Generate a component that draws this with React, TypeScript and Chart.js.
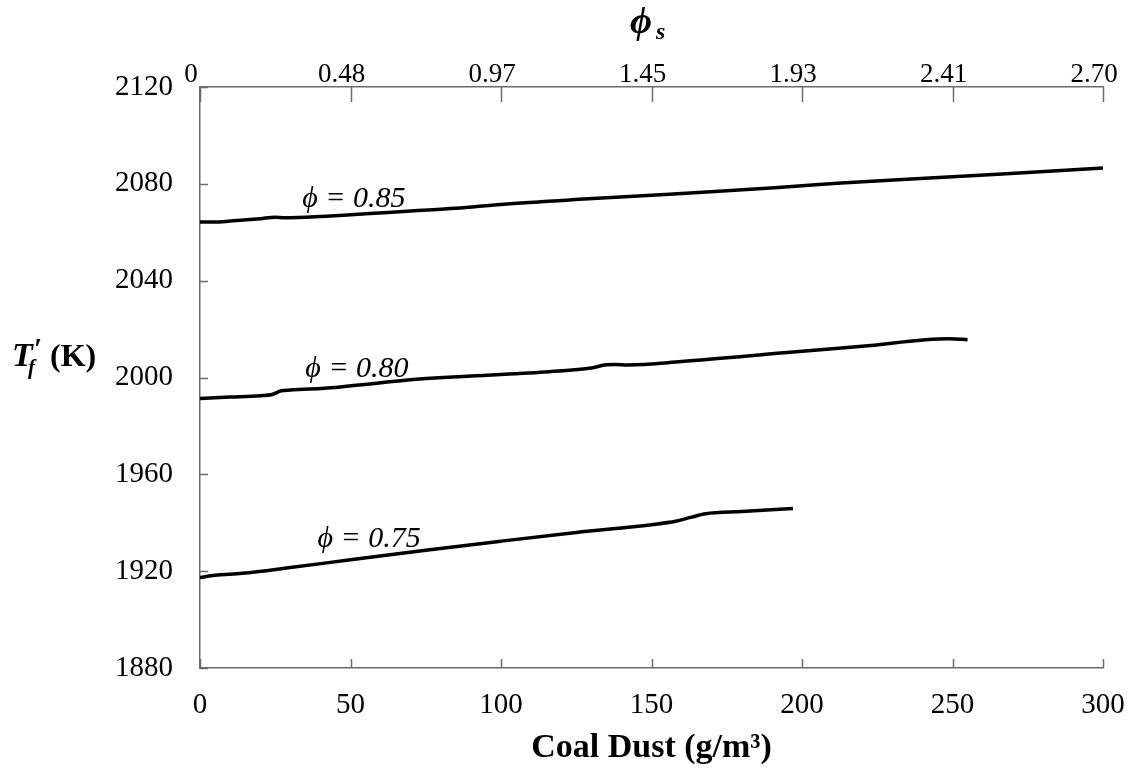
import { useEffect, useRef } from 'react';
import { Chart, registerables } from 'chart.js';

Chart.register(...registerables);

// ---- data ----
const dust085 = [0, 5, 10, 20, 25, 28, 40, 55, 70, 85, 100, 126, 150, 175, 200, 213, 250, 275, 300];
const temp085 = [2064.2, 2064.2, 2064.6, 2065.6, 2066.2, 2066.0, 2066.5, 2067.6, 2068.8, 2069.9, 2071.5, 2073.6, 2075.3, 2077.1, 2079.2, 2080.3, 2082.9, 2084.7, 2086.5];

const dust080 = [0, 10, 20, 24, 27, 30, 45, 57, 69, 90, 116, 130, 135, 138, 142, 160, 194, 220, 249, 255];
const temp080 = [1991.3, 1991.9, 1992.5, 1993.0, 1994.5, 1994.8, 1995.9, 1997.4, 1999.0, 2000.6, 2002.4, 2003.9, 2005.3, 2005.4, 2005.2, 2006.6, 2010.2, 2012.9, 2016.0, 2015.6];

const dust075 = [0, 5, 14, 30, 50, 75, 100, 125, 150, 158, 163, 168, 180, 197];
const temp075 = [1917.4, 1918.3, 1919.1, 1921.5, 1924.7, 1928.6, 1932.4, 1936.0, 1939.2, 1940.6, 1942.2, 1943.7, 1944.6, 1945.9];

const phiSLabels = ['0', '0.48', '0.97', '1.45', '1.93', '2.41', '2.70'];

const curveNames = ['ϕ = 0.85', 'ϕ = 0.80', 'ϕ = 0.75'];
const nameDust = [34, 35, 39];
const nameTemp = [2070.3, 2000.4, 1930.1];

const xTitle = 'Coal Dust (g/m³)';

const SERIF = '"Liberation Serif", "Times New Roman", Times, serif';
const AXIS = '#6b6b6b';

const toPts = (xs: number[], ys: number[]) => xs.map((x, i) => ({ x, y: ys[i] }));

const decor = {
  id: 'decor',
  afterDraw(chart: any) {
    const ctx = chart.ctx as CanvasRenderingContext2D;
    const { left, right, top, bottom } = chart.chartArea;
    const xs = chart.scales.x;
    const xt = chart.scales.xTop;
    const ys = chart.scales.y;
    ctx.save();
    ctx.strokeStyle = AXIS;
    ctx.lineWidth = 1.5;
    ctx.beginPath();
    xs.ticks.forEach((t: any) => {
      const px = Math.round(xs.getPixelForValue(t.value)) + 0.5;
      ctx.moveTo(px, bottom);
      ctx.lineTo(px, bottom - 9);
    });
    xt.ticks.forEach((t: any) => {
      const px = Math.round(xt.getPixelForValue(t.value)) + 0.5;
      ctx.moveTo(px, top);
      ctx.lineTo(px, top + 15);
    });
    ys.ticks.forEach((t: any) => {
      const py = Math.round(ys.getPixelForValue(t.value)) + 0.5;
      ctx.moveTo(left, py);
      ctx.lineTo(left + 8, py);
    });
    ctx.stroke();

    ctx.fillStyle = '#000';
    ctx.textBaseline = 'alphabetic';
    ctx.textAlign = 'left';
    // curve names
    ctx.font = `italic 30px ${SERIF}`;
    curveNames.forEach((n, i) => {
      ctx.fillText(n, xs.getPixelForValue(nameDust[i]), ys.getPixelForValue(nameTemp[i]));
    });

    // x title
    ctx.textAlign = 'center';
    ctx.font = `bold 34px ${SERIF}`;
    ctx.fillText(xTitle, (left + right) / 2, 757);

    // top title phi_s
    ctx.textAlign = 'left';
    ctx.font = `bold italic 38px ${SERIF}`;
    ctx.fillText('ϕ', 630, 33);
    ctx.font = `bold italic 24px ${SERIF}`;
    ctx.fillText('s', 656, 39);

    // y title T_f'(K)
    ctx.font = `bold italic 34px ${SERIF}`;
    ctx.fillText('T', 12, 366);
    ctx.font = `bold italic 21px ${SERIF}`;
    ctx.fillText('f', 28, 374);
    ctx.font = `bold 30px ${SERIF}`;
    ctx.fillText('′', 34, 358);
    ctx.font = `bold 32px ${SERIF}`;
    ctx.fillText('(K)', 50, 366);
    ctx.restore();
  },
};

export default function App() {
  const ref = useRef<HTMLCanvasElement | null>(null);
  useEffect(() => {
    if (!ref.current) return;
    const line = (xs: number[], ys: number[], label: string) => ({
      label,
      data: toPts(xs, ys),
      borderColor: '#000',
      backgroundColor: '#000',
      borderWidth: 3.5,
      pointRadius: 0,
      cubicInterpolationMode: 'monotone' as const,
      fill: false,
    });
    const noPad = (s: any) => { s.paddingLeft = 0; s.paddingRight = 0; };
    const chart = new Chart(ref.current, {
      type: 'line',
      data: {
        datasets: [
          line(dust085, temp085, curveNames[0]),
          line(dust080, temp080, curveNames[1]),
          line(dust075, temp075, curveNames[2]),
        ],
      },
      options: {
        responsive: false,
        animation: false,
        layout: { padding: { left: 0, right: 28, top: 0, bottom: 0 } },
        plugins: { legend: { display: false }, tooltip: { enabled: false } },
        scales: {
          x: {
            type: 'linear',
            position: 'bottom',
            min: 0,
            max: 300,
            grid: { display: false, drawTicks: false },
            border: { display: true, color: AXIS, width: 1.5 },
            ticks: {
              stepSize: 50,
              color: '#000',
              padding: 20,
              maxRotation: 0,
              font: { family: SERIF, size: 29 },
              callback: (v: any) => String(v),
            },
            afterFit: (s: any) => { s.height = 101; noPad(s); },
          },
          xTop: {
            type: 'linear',
            position: 'top',
            min: 0,
            max: 300,
            grid: { display: false, drawTicks: false },
            border: { display: true, color: AXIS, width: 1.5 },
            ticks: {
              stepSize: 50,
              color: '#000',
              padding: -4,
              labelOffset: -9,
              maxRotation: 0,
              font: { family: SERIF, size: 27 },
              callback: (_v: any, i: number) => phiSLabels[i],
            },
            afterFit: (s: any) => { s.height = 87; noPad(s); },
          },
          y: {
            type: 'linear',
            position: 'left',
            min: 1880,
            max: 2120,
            grid: { display: false, drawTicks: false },
            border: { display: true, color: AXIS, width: 1.5 },
            ticks: {
              stepSize: 40,
              color: '#000',
              padding: 27,
              font: { family: SERIF, size: 29 },
              callback: (v: any) => String(v),
            },
            afterFit: (s: any) => { s.width = 200; s.paddingTop = 0; s.paddingBottom = 0; },
          },
        },
      },
      plugins: [decor],
    });
    return () => chart.destroy();
  }, []);
  return (
    <div style={{ position: 'absolute', left: 0, top: 0, width: 1131, height: 769, background: '#fff' }}>
      <canvas ref={ref} width={1131} height={769} />
    </div>
  );
}
